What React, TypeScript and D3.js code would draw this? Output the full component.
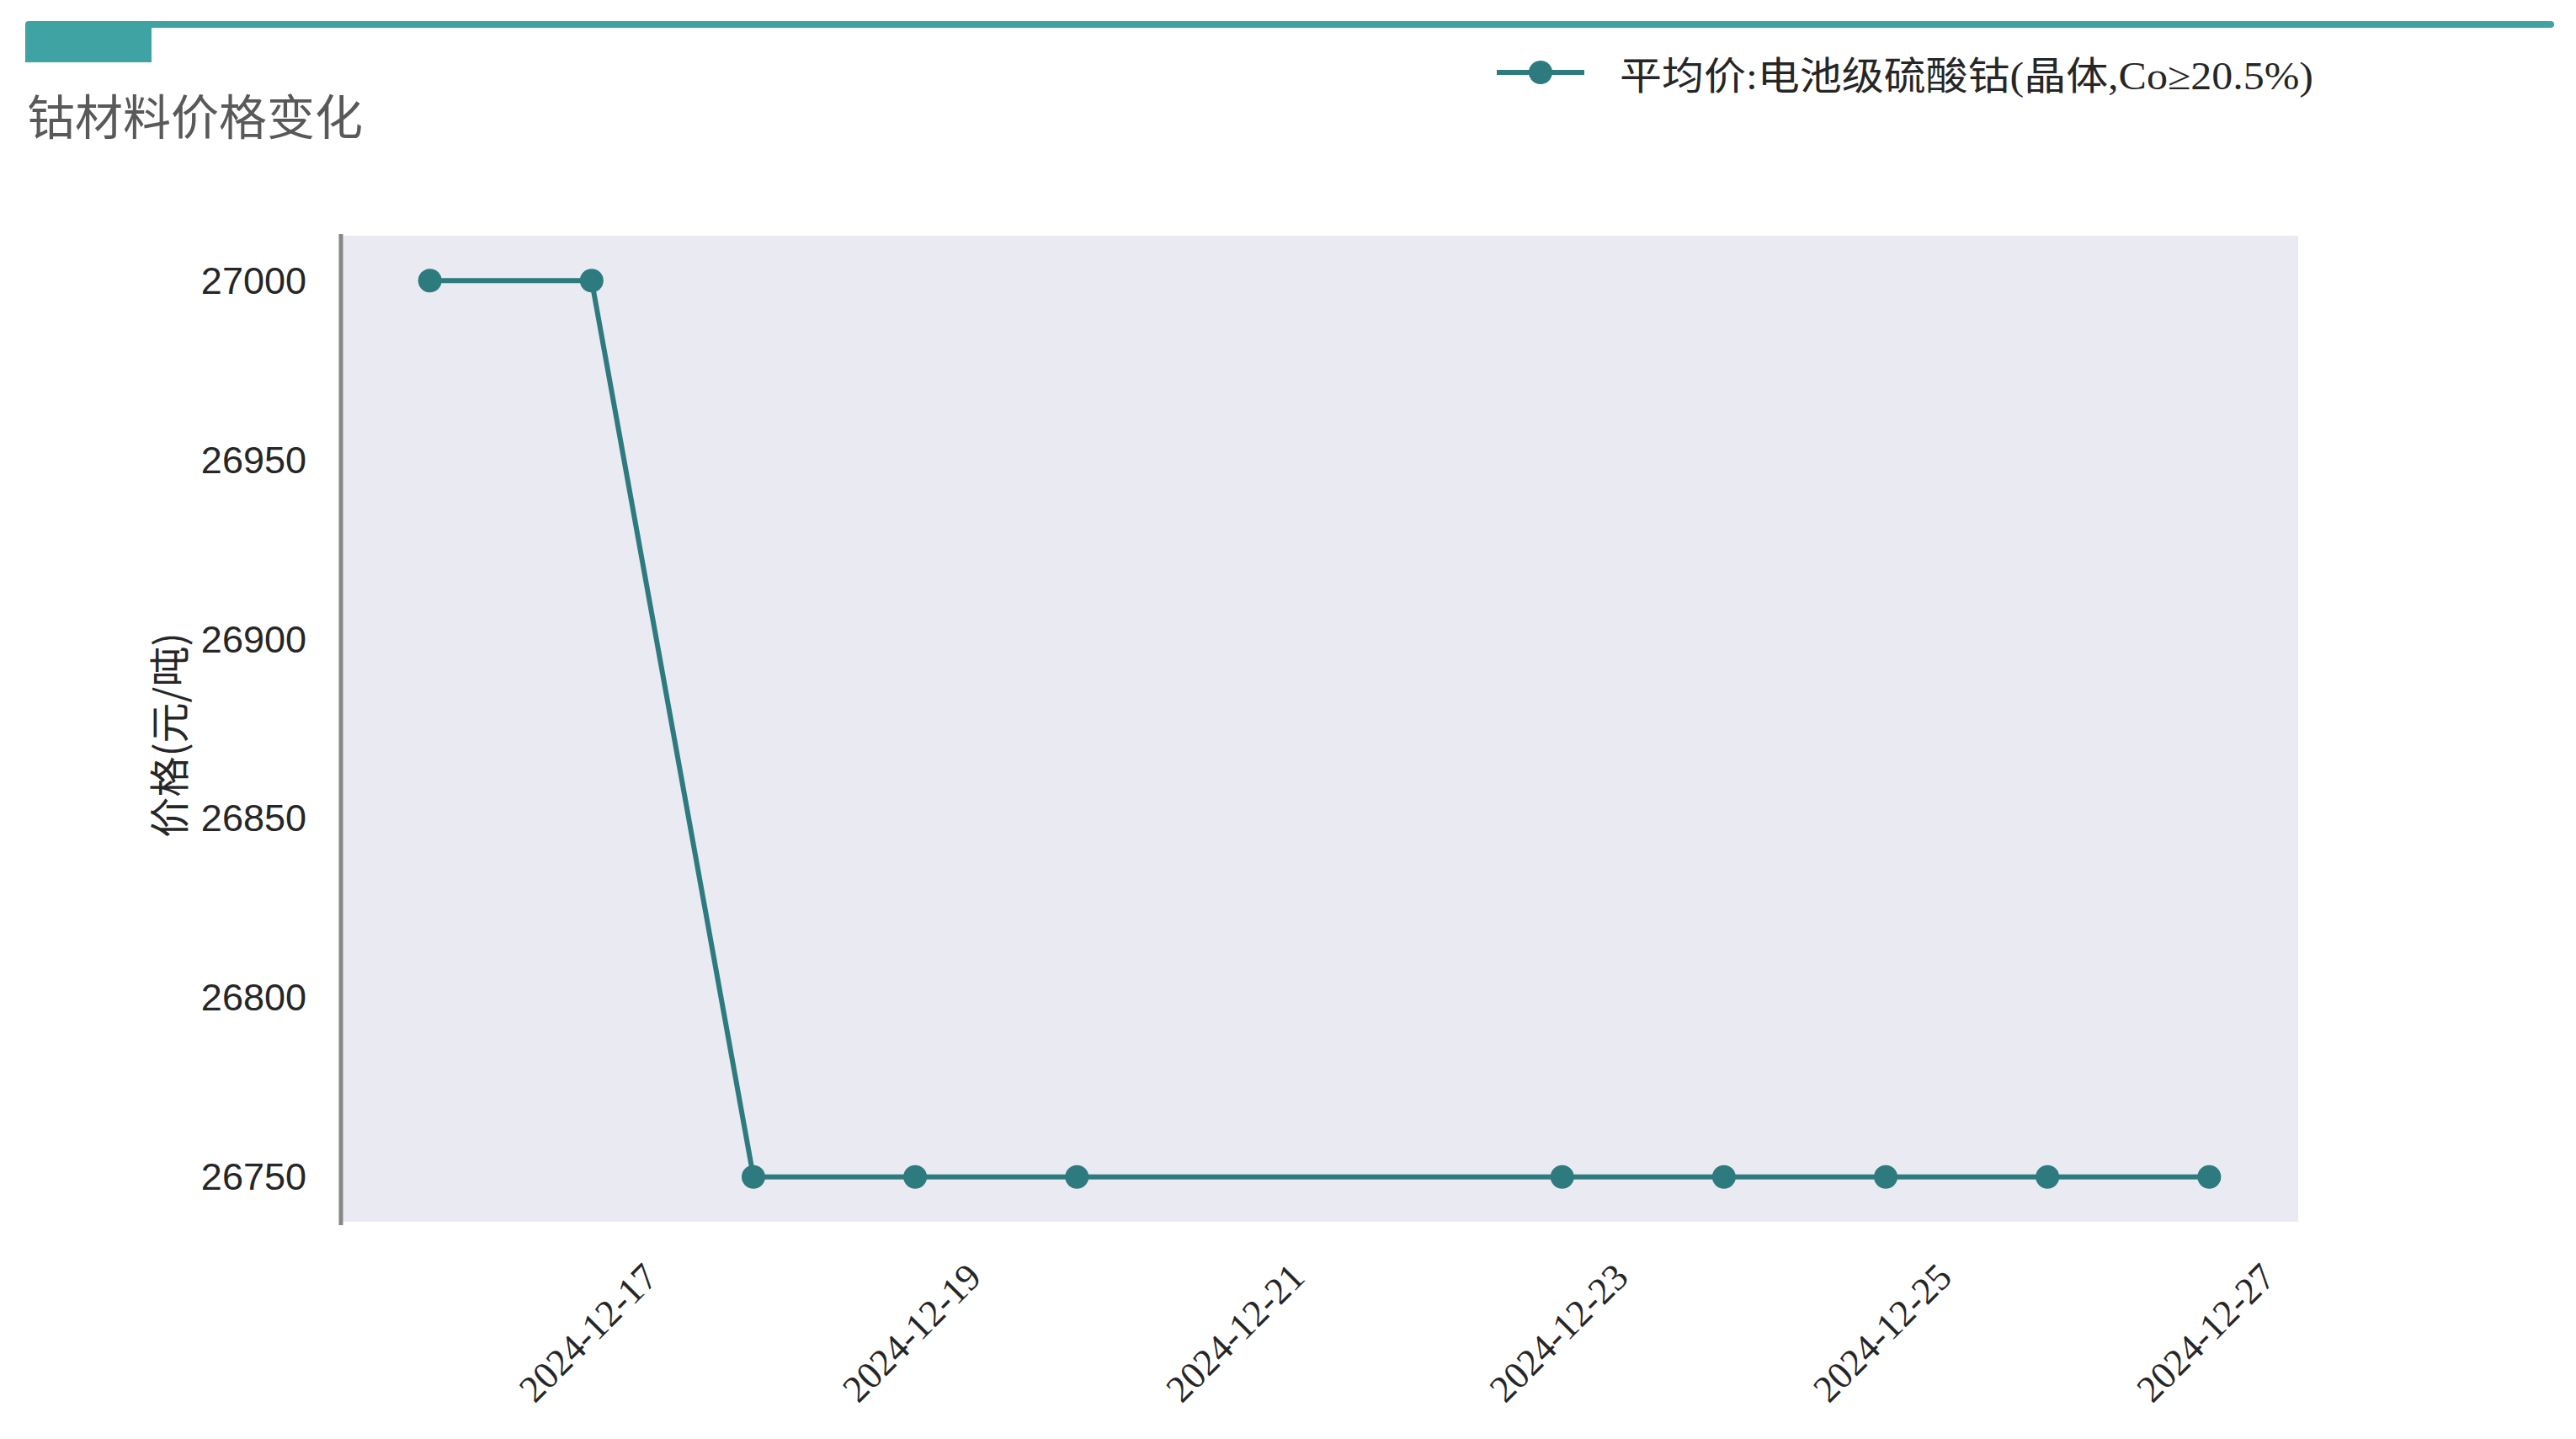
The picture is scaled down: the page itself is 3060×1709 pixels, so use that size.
import * as d3 from "d3";

const dates = [
  "2024-12-16", "2024-12-17", "2024-12-18", "2024-12-19", "2024-12-20",
  "2024-12-23", "2024-12-24", "2024-12-25", "2024-12-26", "2024-12-27",
];
const prices = [27000, 27000, 26750, 26750, 26750, 26750, 26750, 26750, 26750, 26750];
const yTicks = [26750, 26800, 26850, 26900, 26950, 27000];
const xTicks = ["2024-12-17", "2024-12-19", "2024-12-21", "2024-12-23", "2024-12-25", "2024-12-27"];

const title = "钴材料价格变化";
const seriesName = "平均价:电池级硫酸钴(晶体,Co≥20.5%)";
const yLabel = "价格(元/吨)";

const W = 3060;
const H = 1709;
const plot = { left: 405, right: 2730, top: 280, bottom: 1451 };
const lineColor = "#2e7b7f";
const teal = "#3fa3a4";

const parse = d3.utcParse("%Y-%m-%d");
const points = dates.map((d, i) => ({ date: parse(d)!, value: prices[i] }));

export default function App() {
  // matplotlib-style 5% margins on both axes
  const [d0, d1] = d3.extent(points, (p) => p.date) as [Date, Date];
  const span = +d1 - +d0;
  const x = d3
    .scaleUtc()
    .domain([new Date(+d0 - span * 0.05), new Date(+d1 + span * 0.05)])
    .range([plot.left, plot.right]);

  const [v0, v1] = d3.extent(prices) as [number, number];
  const vs = v1 - v0;
  const y = d3
    .scaleLinear()
    .domain([v0 - vs * 0.05, v1 + vs * 0.05])
    .range([plot.bottom, plot.top]);

  const line = d3
    .line<{ date: Date; value: number }>()
    .x((d) => x(d.date))
    .y((d) => y(d.value));

  return (
    <svg
      width={W}
      height={H}
      style={{ position: "absolute", left: 0, top: 0, background: "#fff" }}
    >
      {/* header decoration */}
      <line x1={34} x2={3030} y1={29} y2={29} stroke={teal} strokeWidth={8} strokeLinecap="round" />
      <rect x={30} y={29} width={150} height={45} fill={teal} />
      <text x={32} y={160} fontFamily="Noto Sans CJK SC" fontSize={57} fill="#595959">
        {title}
      </text>

      {/* legend */}
      <line x1={1778} x2={1882} y1={86} y2={86} stroke={lineColor} strokeWidth={6} />
      <circle cx={1830} cy={86} r={14} fill={lineColor} />
      <text
        x={1924}
        y={106}
        fontFamily="'Liberation Serif', 'Noto Sans CJK SC'"
        fontSize={46}
        fill="#262626"
        textLength={824}
        lengthAdjust="spacingAndGlyphs"
      >
        {seriesName}
      </text>

      {/* plot background */}
      <rect
        x={plot.left}
        y={plot.top}
        width={plot.right - plot.left}
        height={plot.bottom - plot.top}
        fill="#eaeaf2"
      />
      <line x1={405} x2={405} y1={plot.top - 2} y2={plot.bottom + 4} stroke="#878787" strokeWidth={5} />

      {/* y ticks */}
      {yTicks.map((t) => (
        <text
          key={t}
          x={364}
          y={y(t)}
          textAnchor="end"
          dominantBaseline="central"
          fontFamily="'Liberation Sans', Arial"
          fontSize={45}
          fill="#262626"
        >
          {t}
        </text>
      ))}
      <text
        transform={`translate(198,873) rotate(-90)`}
        textAnchor="middle"
        dominantBaseline="central"
        fontFamily="Noto Sans CJK SC"
        fontSize={48}
        fill="#262626"
      >
        {yLabel}
      </text>

      {/* x ticks */}
      {xTicks.map((t) => {
        const cx = x(parse(t)!);
        return (
          <text
            key={t}
            transform={`translate(${cx - 4},1583) rotate(-45)`}
            textAnchor="middle"
            dominantBaseline="central"
            fontFamily="'Liberation Serif', serif"
            fontSize={45}
            fill="#262626"
          >
            {t}
          </text>
        );
      })}

      {/* series */}
      <path d={line(points) ?? ""} fill="none" stroke={lineColor} strokeWidth={6} />
      {points.map((p, i) => (
        <circle key={i} cx={x(p.date)} cy={y(p.value)} r={14} fill={lineColor} />
      ))}
    </svg>
  );
}
